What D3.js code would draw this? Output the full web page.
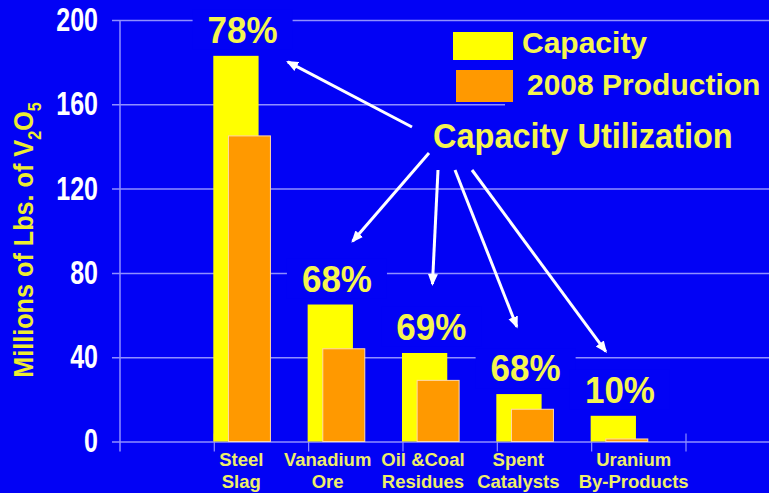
<!DOCTYPE html>
<html>
<head>
<meta charset="utf-8">
<script src="https://cdn.jsdelivr.net/npm/d3@7"></script>
<style>
  html, body { margin: 0; padding: 0; background: #0202f5; }
  svg { display: block; font-family: "Liberation Sans", Arial, sans-serif; font-weight: bold; }
</style>
</head>
<body>
<svg id="chart" width="769" height="493"></svg>
<script>
// data
const categories = ["Steel Slag", "Vanadium Ore", "Oil &Coal Residues", "Spent Catalysts", "Uranium By-Products"];
const categoryLines = [["Steel", "Slag"], ["Vanadium", "Ore"], ["Oil &Coal", "Residues"], ["Spent", "Catalysts"], ["Uranium", "By-Products"]];
const capacity = [183, 65, 42, 22.5, 12.2];
const production = [145, 44, 29, 15.3, 1.2];
const utilization = ["78%", "68%", "69%", "68%", "10%"];
const yTicks = [0, 40, 80, 120, 160, 200];
const seriesNames = ["Capacity", "2008 Production"];

const W = 769, H = 493;
const bg = "#0202f5";
const gridColor = "#8f8fff";
const yellow = "#ffff00";
const orange = "#ff9900";
const labelYellow = "#f5f550";

const svg = d3.select("#chart");
svg.append("rect").attr("width", W).attr("height", H).attr("fill", bg);

const y = d3.scaleLinear().domain([0, 200]).range([441.5, 20]);
const x = d3.scaleBand().domain(categories).range([214.3, 686]);
const bw = x.bandwidth();

// gridlines + tick labels
const yAxis = svg.append("g")
  .attr("transform", "translate(112,0)")
  .call(d3.axisLeft(y).tickValues(yTicks).tickSize(-(W - 112)).tickPadding(14));
yAxis.select(".domain").remove();
yAxis.selectAll(".tick line").attr("stroke", gridColor).attr("stroke-width", 1.5);
yAxis.selectAll(".tick text")
  .attr("fill", "#ffffff")
  .attr("font-size", 25)
  .attr("font-weight", "bold")
  .attr("font-family", "'Liberation Sans', Arial, sans-serif")
  .attr("transform", "scale(1,1.3)");

// vertical axis line
svg.append("line")
  .attr("x1", 120).attr("x2", 120)
  .attr("y1", y(200)).attr("y2", y(0) + 10)
  .attr("stroke", gridColor).attr("stroke-width", 1.5);

// category boundary ticks
const edges = categories.map(c => x(c)).concat([x(categories[categories.length - 1]) + bw]);
svg.append("g").selectAll("line").data(edges).join("line")
  .attr("x1", d => d).attr("x2", d => d)
  .attr("y1", y(0) - 8).attr("y2", y(0) + 10)
  .attr("stroke", gridColor).attr("stroke-width", 1.2);

// legend background hides gridlines behind it
svg.append("rect").attr("x", 505).attr("y", 24).attr("width", W - 505).attr("height", 84).attr("fill", bg);

// blue boxes behind the percentage labels
const labelBaseline = i => y(capacity[i]) - 13;
const labelCx = i => x(categories[i]) + bw * 0.3;
svg.append("g").selectAll("rect").data(utilization).join("rect")
  .attr("x", (d, i) => labelCx(i) - 50)
  .attr("y", (d, i) => labelBaseline(i) - 33)
  .attr("width", 100)
  .attr("height", 40)
  .attr("fill", bg);

// bars
svg.append("g").selectAll("rect").data(capacity).join("rect")
  .attr("x", (d, i) => x(categories[i]) - 1)
  .attr("y", d => y(d))
  .attr("width", bw * 0.48)
  .attr("height", d => y(0) - y(d))
  .attr("fill", yellow);

svg.append("g").selectAll("rect").data(production).join("rect")
  .attr("x", (d, i) => x(categories[i]) + bw * 0.15)
  .attr("y", d => y(d))
  .attr("width", bw * 0.445)
  .attr("height", d => y(0) - y(d))
  .attr("fill", orange)
  .attr("stroke", "#ffd8a8")
  .attr("stroke-width", 1);

// percentage labels
svg.append("g").selectAll("text").data(utilization).join("text")
  .attr("transform", (d, i) => `translate(${labelCx(i)},${labelBaseline(i)}) scale(1,1.08)`)
  .attr("text-anchor", "middle")
  .attr("font-size", 35)
  .attr("fill", labelYellow)
  .text(d => d);

// category labels (hand placed in the original)
const labelShift = [27, 19, 20, 21, 42];
const catText = svg.append("g").selectAll("text").data(categoryLines).join("text")
  .attr("text-anchor", "middle")
  .attr("font-size", 18.5)
  .attr("fill", "#eeee6a");
catText.selectAll("tspan").data((d, i) => d.map(t => ({ t, i }))).join("tspan")
  .attr("x", d => x(categories[d.i]) + labelShift[d.i])
  .attr("y", (d, j) => 466 + j * 22)
  .text(d => d.t);

// y axis title
const yt = svg.append("text")
  .attr("transform", "translate(33,240) rotate(-90) scale(0.9,1)")
  .attr("text-anchor", "middle")
  .attr("font-size", 28)
  .attr("fill", "#eded30");
yt.append("tspan").text("Millions of Lbs. of V");
yt.append("tspan").attr("font-size", 18).attr("dy", 8).text("2");
yt.append("tspan").attr("dy", -8).text("O");
yt.append("tspan").attr("font-size", 18).attr("dy", 8).text("5");

// legend
const legendColors = [yellow, orange];
const legend = svg.append("g");
legend.selectAll("rect").data(seriesNames).join("rect")
  .attr("x", (d, i) => i === 0 ? 453 : 456)
  .attr("y", (d, i) => i === 0 ? 32 : 70)
  .attr("width", (d, i) => i === 0 ? 60 : 57)
  .attr("height", (d, i) => i === 0 ? 28 : 32)
  .attr("fill", (d, i) => legendColors[i]);
legend.selectAll("text").data(seriesNames).join("text")
  .attr("x", (d, i) => i === 0 ? 522 : 527)
  .attr("y", (d, i) => i === 0 ? 53 : 95)
  .attr("font-size", 30)
  .attr("fill", labelYellow)
  .text(d => d);

// "Capacity Utilization" annotation with arrows
const annX = 433, annY = 148;
svg.append("text")
  .attr("transform", `translate(${annX},${annY}) scale(1,1.1)`)
  .attr("font-size", 32.5)
  .attr("fill", labelYellow)
  .text("Capacity Utilization");

svg.append("defs").append("marker")
  .attr("id", "head")
  .attr("markerUnits", "userSpaceOnUse")
  .attr("viewBox", "0 -6 12 12")
  .attr("refX", 10).attr("refY", 0)
  .attr("markerWidth", 12).attr("markerHeight", 12)
  .attr("orient", "auto")
  .append("path")
  .attr("d", "M0,-5L12,0L0,5Z")
  .attr("fill", "#ffffff");

const tails = [[-21, -21], [-4, 5], [5, 22], [22, 22], [39, 22]];
const arrows = categories.map((c, i) => {
  const tx = annX + tails[i][0], ty = annY + tails[i][1];
  if (i === 0) {
    return { x1: tx, y1: ty, x2: x(c) + bw * 0.78, y2: y(capacity[i]) + 6 };
  }
  const px = labelCx(i), py = y(capacity[i]) - 45;
  const dx = px - tx, dy = py - ty, len = Math.hypot(dx, dy);
  return { x1: tx, y1: ty, x2: px - dx / len * 24, y2: py - dy / len * 24 };
});
svg.append("g").selectAll("line").data(arrows).join("line")
  .attr("x1", d => d.x1).attr("y1", d => d.y1)
  .attr("x2", d => d.x2).attr("y2", d => d.y2)
  .attr("stroke", "#ffffff")
  .attr("stroke-width", 3)
  .attr("marker-end", "url(#head)");
</script>
</body>
</html>
